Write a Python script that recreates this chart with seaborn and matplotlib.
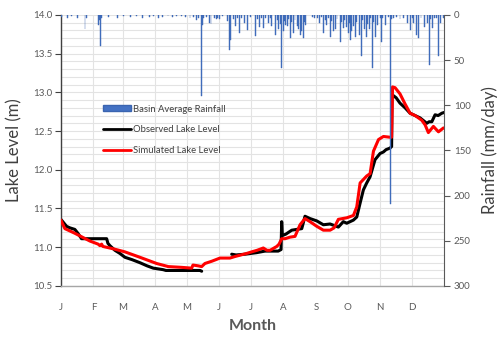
import numpy as np
import pandas as pd
import matplotlib
matplotlib.use("Agg")
import matplotlib.pyplot as plt
import seaborn as sns
from matplotlib.patches import Patch
from matplotlib.lines import Line2D

# ---------------- data ----------------
month_ticks = [0, 31, 59, 90, 120, 151, 181, 212, 243, 273, 304, 334]
month_labels = ["J", "F", "M", "A", "M", "J", "J", "A", "S", "O", "N", "D"]

rain_day = [1, 6, 10, 16, 23, 24, 36, 37, 38, 39, 45, 54, 60, 66, 72, 78, 84, 88, 93, 97, 102, 106, 110, 115, 119,
            123, 126, 129, 131, 134, 135, 136, 139, 142, 143, 146, 148, 149, 151, 154, 159, 161, 162, 164, 166, 168,
            170, 172, 175, 178, 181, 185, 187, 189, 191, 193, 195, 198, 200, 201, 204, 206, 207, 209, 210, 212, 213,
            214, 216, 217, 219, 220, 222, 223, 225, 226, 228, 229, 231, 232, 233,
            240, 242, 244, 246, 248, 250, 252, 253, 255, 257, 258, 260, 262, 263, 266, 267, 269, 270, 272, 274, 275,
            276, 277, 279, 281, 282, 284, 286, 287, 289, 291, 292, 294, 295, 297, 298, 300, 302, 304, 305, 306, 309,
            312, 314, 315, 317, 320, 323, 326, 330, 333, 335, 336, 339, 341, 343, 346, 349, 351, 352, 354, 356, 358,
            360, 362, 364]
rain_mm = [2, 4, 1, 3, 16, 3, 11, 6, 35, 4, 2, 4, 1, 2, 1, 3, 2, 1, 3, 2, 1, 2, 1, 1, 2,
           4, 2, 6, 3, 90, 11, 3, 2, 9, 10, 3, 5, 4, 5, 1, 7, 39, 28, 5, 12, 4,
           20, 3, 9, 17, 2, 23, 5, 13, 3, 15, 4, 9, 3, 12, 22, 6, 16, 10, 59, 18, 7,
           11, 12, 5, 26, 8, 20, 6, 12, 16, 22, 18, 26, 8, 11,
           2, 4, 3, 9, 2, 20, 6, 11, 4, 24, 7, 18, 16, 5, 30, 8, 14, 6, 13, 20, 9,
           28, 18, 12, 24, 8, 22, 46, 6, 16, 24, 10, 16, 4, 59, 8, 24, 11, 3, 30, 4, 11,
           2, 209, 5, 4, 2, 5, 3, 9, 17, 4, 9, 22, 26, 4, 13, 9, 55, 5, 15, 3, 4,
           46, 9, 3]

obs_day_1 = [0, 5.4, 8.6, 13.3, 16.2, 19.7, 43.6, 44.8, 46.7, 51.5, 56.2, 61, 67.7, 75.3, 82, 88, 97.5, 100,
             132.5, 134.1]
obs_lvl_1 = [11.36, 11.27, 11.25, 11.23, 11.18, 11.11, 11.11, 11.05, 11.02, 10.96, 10.92, 10.87, 10.84, 10.80,
             10.76, 10.73, 10.71, 10.70, 10.70, 10.69]
obs_day_2 = [162.7, 166.8, 175.4, 186.5, 194.4, 207, 209.7, 210.3, 211, 214.4, 219.9, 229.4, 230.6, 232.5, 237.3,
             243.7, 250, 256.4, 264.3, 269, 272.3, 278.6, 281.8, 285, 288.1, 291.3, 294.5, 299.2, 304, 307.2,
             309.7, 313.5, 315, 315.4, 319.3, 323, 327.8, 332.6, 337.4, 342.1, 348.5, 350.7, 353.3, 356.4, 359.3,
             362.8, 365]
obs_lvl_2 = [10.91, 10.90, 10.91, 10.93, 10.95, 10.95, 10.97, 11.33, 11.15, 11.17, 11.22, 11.24, 11.30, 11.40,
             11.37, 11.34, 11.29, 11.30, 11.26, 11.33, 11.31, 11.35, 11.39, 11.57, 11.74, 11.83, 11.91, 12.13,
             12.21, 12.23, 12.26, 12.28, 12.30, 12.97, 12.93, 12.86, 12.80, 12.73, 12.70, 12.67, 12.60, 12.62,
             12.62, 12.71, 12.70, 12.73, 12.74]

sim_day = [0, 3.8, 13.3, 27.6, 35.5, 37.2, 38.8, 40, 49.8, 61, 75.3, 91.2, 102.3, 115, 124.6, 125.8, 130.6, 134.1,
           137.2, 143.9, 151.5, 161, 165.8, 177, 181.7, 186.8, 192.8, 196.3, 199.2, 205.6, 207.8, 210.3, 213.5,
           218.2, 223, 227.8, 232.5, 237.3, 243.7, 250, 256.4, 260.2, 264.3, 272.3, 278.6, 281.8, 285, 291.3,
           294.5, 297.7, 302.5, 307.2, 313.5, 315, 315.9, 318.3, 323, 327.8, 332.6, 337.4, 343.7, 346.9, 350,
           354.8, 359.6, 364.4]
sim_lvl = [11.35, 11.24, 11.18, 11.08, 11.04, 11.02, 11.04, 11.01, 10.98, 10.94, 10.87, 10.79, 10.75, 10.74, 10.73,
           10.77, 10.76, 10.75, 10.79, 10.82, 10.86, 10.86, 10.88, 10.92, 10.94, 10.96, 10.99, 10.96, 10.96, 11.01,
           11.04, 11.11, 11.11, 11.13, 11.14, 11.29, 11.37, 11.33, 11.27, 11.22, 11.22, 11.25, 11.36, 11.38, 11.41,
           11.52, 11.83, 11.92, 11.95, 12.24, 12.39, 12.43, 12.42, 12.42, 13.07, 13.06, 12.98, 12.85, 12.73, 12.70,
           12.64, 12.58, 12.48, 12.56, 12.49, 12.54]

# ---------------- plot ----------------
sns.set_theme(style="white")
plt.rcParams["font.family"] = ["Lato", "DejaVu Sans"]

fig = plt.figure(figsize=(4.99, 3.38), dpi=100)
ax = fig.add_axes([0.122, 0.154, 0.768, 0.802])
ax2 = ax.twinx()

grid_c = "#e3e3e3"
txt_c = "#595959"

obs1 = pd.DataFrame({"day": obs_day_1, "lvl": obs_lvl_1})
obs2 = pd.DataFrame({"day": obs_day_2, "lvl": obs_lvl_2})
sim = pd.DataFrame({"day": sim_day, "lvl": sim_lvl})

sns.lineplot(data=sim, x="day", y="lvl", ax=ax, color="#ff0000", lw=2.2, estimator=None, sort=False, zorder=3)
sns.lineplot(data=obs1, x="day", y="lvl", ax=ax, color="black", lw=2.2, estimator=None, sort=False, zorder=2)
sns.lineplot(data=obs2, x="day", y="lvl", ax=ax, color="black", lw=2.2, estimator=None, sort=False, zorder=2)

ax2.bar(rain_day, rain_mm, width=0.9, color="#4472c4", edgecolor="#3a64b0", linewidth=0.3, zorder=2)
ax2.set_ylim(300, 0)
ax2.set_yticks(np.arange(0, 301, 50))

ax.set_xlim(0, 365)
ax.set_ylim(10.5, 14.0)
ax.set_yticks(np.arange(10.5, 14.01, 0.5))
ax.set_yticks(np.arange(10.5, 14.01, 0.1), minor=True)
ax.set_yticklabels([f"{v:.1f}" for v in np.arange(10.5, 14.01, 0.5)])
ax.set_xticks(month_ticks)
ax.set_xticklabels(month_labels)

ax.grid(True, which="both", axis="y", color=grid_c, lw=0.8)
ax.grid(True, which="major", axis="x", color=grid_c, lw=0.8)
ax.set_axisbelow(True)

for a in (ax, ax2):
    for s in a.spines.values():
        s.set_visible(False)
ax.spines["left"].set_visible(True)
ax.spines["left"].set_color("#404040")
ax.spines["left"].set_linewidth(1.0)
ax.spines["bottom"].set_visible(True)
ax.spines["bottom"].set_color("#a6a6a6")
ax.spines["bottom"].set_linewidth(1.0)
ax2.spines["right"].set_visible(True)
ax2.spines["right"].set_color("#595959")
ax2.spines["right"].set_linewidth(0.8)

ax.tick_params(axis="y", which="major", left=True, length=4, width=0.8, color="#404040",
               labelsize=7, labelcolor=txt_c, pad=2)
ax.tick_params(axis="y", which="minor", left=False)
ax.tick_params(axis="x", bottom=False, labelsize=7, labelcolor=txt_c, pad=6)
ax2.tick_params(axis="y", right=True, length=4, width=0.8, color="#595959",
                labelsize=7, labelcolor=txt_c, pad=3)

ax.set_xlabel("Month", fontsize=11.5, fontweight="bold", color=txt_c, labelpad=5)
ax.set_ylabel("Lake Level (m)", fontsize=12, color="#404040", labelpad=8)
ax2.set_ylabel("Rainfall (mm/day)", fontsize=12, color="#404040", labelpad=8)

handles = [Patch(facecolor="#4472c4", edgecolor="#3a64b0"),
           Line2D([0], [0], color="black", lw=2),
           Line2D([0], [0], color="#ff0000", lw=2)]
labels = ["Basin Average Rainfall", "Observed Lake Level", "Simulated Lake Level"]
leg = ax2.legend(handles, labels, loc="upper left", bbox_to_anchor=(0.1, 0.683), frameon=False,
                 fontsize=6.8, handlelength=3.0, handleheight=0.6, handletextpad=0.2,
                 labelspacing=1.25, borderaxespad=0)
for t in leg.get_texts():
    t.set_color("#404040")

fig.savefig("out.png", dpi=100)
